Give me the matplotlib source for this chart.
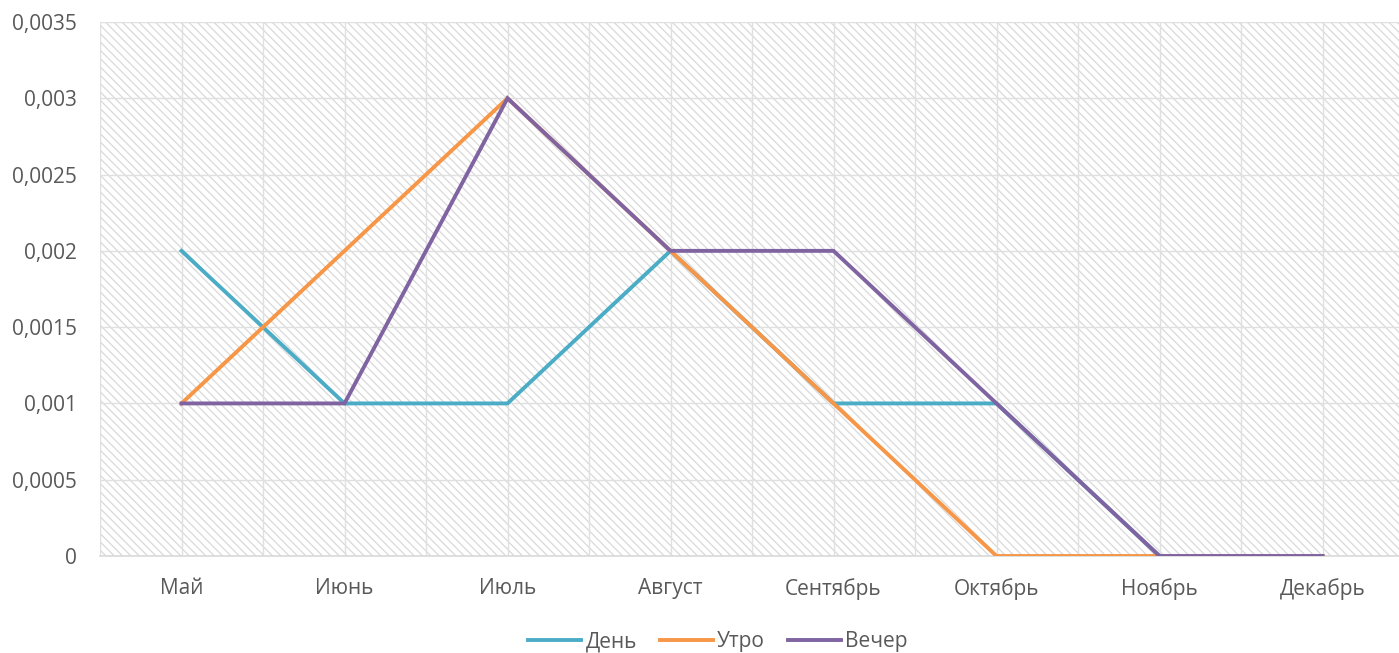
import matplotlib
matplotlib.use("Agg")
import matplotlib.pyplot as plt
from matplotlib.patches import Rectangle
from matplotlib.ticker import FixedLocator, FuncFormatter, MultipleLocator

months = ["Май", "Июнь", "Июль", "Август", "Сентябрь", "Октябрь", "Ноябрь", "Декабрь"]
day = [0.002, 0.001, 0.001, 0.002, 0.001, 0.001, 0.0, 0.0]
morning = [0.001, 0.002, 0.003, 0.002, 0.001, 0.0, 0.0, 0.0]
evening = [0.001, 0.001, 0.003, 0.002, 0.002, 0.001, 0.0, 0.0]
series_names = ["День", "Утро", "Вечер"]
colors = ["#4bacc6", "#f79646", "#8064a2"]

plt.rcParams['font.family'] = ['Open Sans', 'DejaVu Sans']
plt.rcParams['hatch.linewidth'] = 0.9

fig = plt.figure(figsize=(13.99, 6.53), dpi=100)
ax = fig.add_axes([100/1399, 1-556/653, 1-100/1399, (556-22)/653])

bg = Rectangle((0, 0), 1, 1, transform=ax.transAxes, facecolor="white",
               edgecolor="#d9d9d9", hatch="\\\\\\\\", linewidth=0, zorder=0)
ax.add_patch(bg)

x = list(range(len(months)))
for vals, name, c in zip([day, morning, evening], series_names, colors):
    ax.plot(x, vals, color=c, lw=2.8, label=name, zorder=3, solid_joinstyle="miter")

ax.set_xlim(-0.5, (1399-100)/163 - 0.5)
ax.set_ylim(0, 0.0035)
ax.yaxis.set_major_locator(MultipleLocator(0.0005))
ax.yaxis.set_major_formatter(FuncFormatter(lambda v, p: ("%g" % round(v, 5)).replace(".", ",") if v != 0 else "0"))
ax.set_xticks(x)
ax.set_xticklabels(months)
ax.xaxis.set_minor_locator(FixedLocator([i + 0.5 for i in range(-1, 8)]))

ax.grid(True, which="major", axis="both", color="#e0e0e0", lw=1.0, zorder=1)
ax.grid(True, which="minor", axis="x", color="#e0e0e0", lw=1.0, zorder=1)
ax.set_axisbelow(True)
for s in ["top", "right", "left"]:
    ax.spines[s].set_visible(False)
ax.spines["bottom"].set_color("#d9d9d9")
ax.spines["bottom"].set_linewidth(1.2)

ax.tick_params(axis="both", which="both", length=0, labelsize=15, labelcolor="#595959")
ax.tick_params(axis="y", pad=16.5)
ax.tick_params(axis="x", pad=16)

fig.legend(loc="center", bbox_to_anchor=(718/1399, 1-642/653), ncol=3, frameon=False,
           fontsize=15, labelcolor="#595959", handlelength=2.55, handletextpad=0.2,
           columnspacing=1.1)

fig.savefig("out.png", dpi=100)
